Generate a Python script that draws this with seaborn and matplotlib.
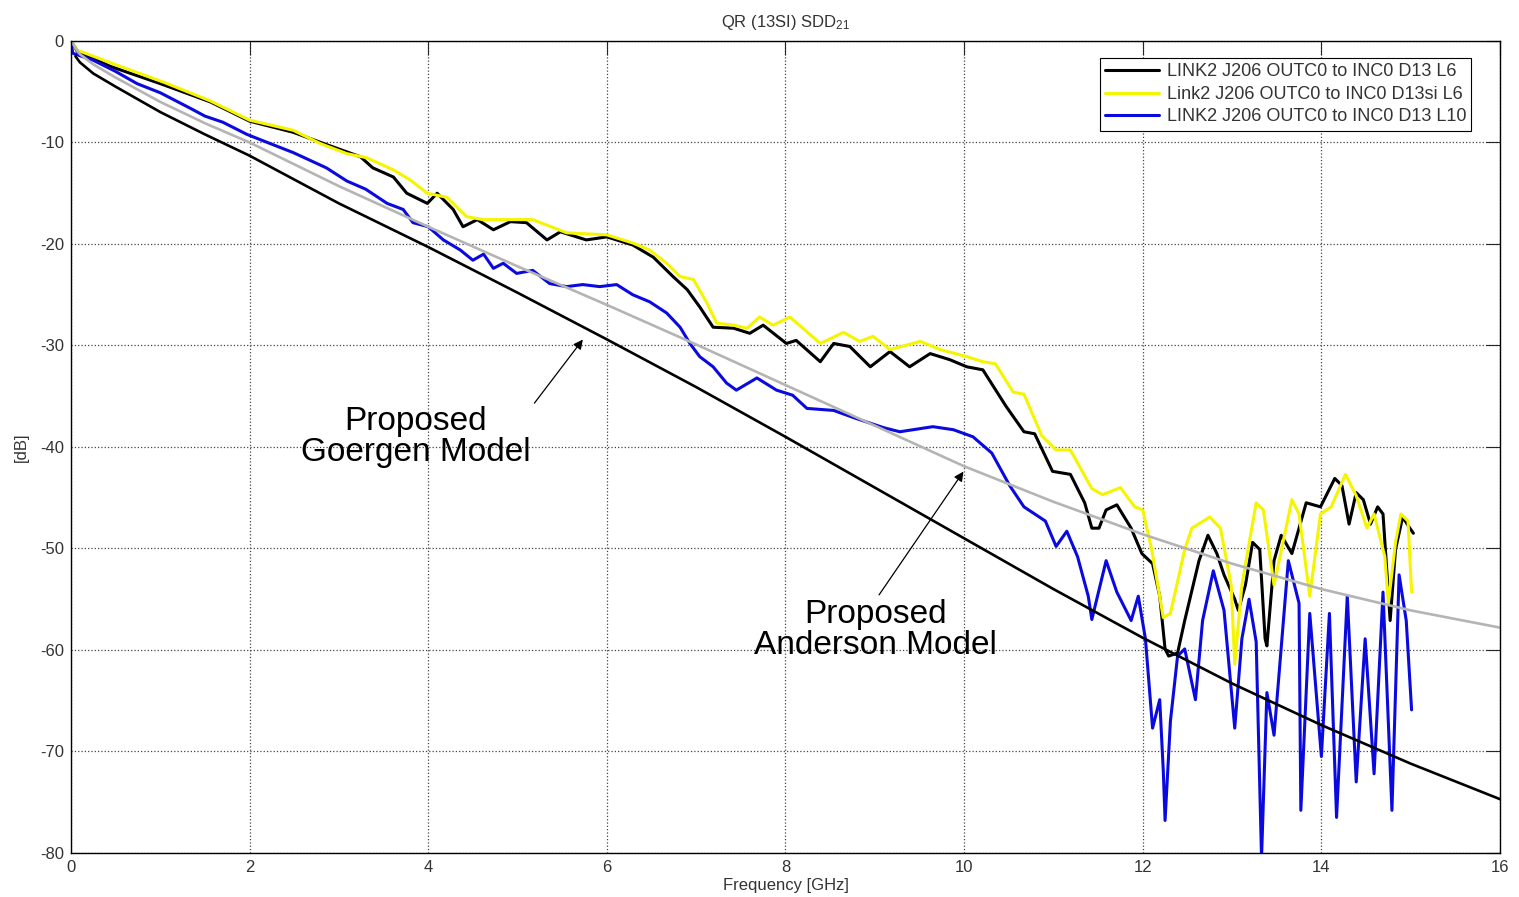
import matplotlib
matplotlib.use("Agg")
import matplotlib.pyplot as plt
import pandas as pd
import seaborn as sns

freq_l6 = [0, 0.07, 0.44, 1.0, 1.56, 2.0, 2.49, 2.86, 3.24, 3.38, 3.61, 3.76, 3.99, 4.1, 4.28,
           4.39, 4.55, 4.73, 4.92, 5.1, 5.33, 5.48, 5.77, 6.0, 6.29, 6.52, 6.74, 6.9, 7.04, 7.19,
           7.42, 7.6, 7.75, 8.01, 8.12, 8.39, 8.54, 8.72, 8.95, 9.17, 9.39, 9.62, 9.84, 10.03,
           10.21, 10.47, 10.67, 10.79, 10.99, 11.19, 11.35, 11.43, 11.51, 11.59, 11.71, 11.87,
           11.99, 12.11, 12.19, 12.25, 12.29, 12.39, 12.47, 12.63, 12.73, 12.83, 12.91, 13.03,
           13.07, 13.15, 13.23, 13.31, 13.37, 13.39, 13.47, 13.55, 13.67, 13.83, 13.99, 14.15,
           14.23, 14.31, 14.39, 14.47, 14.55, 14.63, 14.69, 14.77, 14.83, 14.91, 14.99, 15.03]
db_l6 = [0, -1.0, -2.5, -4.2, -6.0, -7.9, -9.0, -10.2, -11.4, -12.5, -13.4, -15.0, -16.0, -15.0,
         -16.6, -18.3, -17.6, -18.6, -17.8, -17.9, -19.6, -18.8, -19.6, -19.3, -20.1, -21.3, -23.2,
         -24.5, -26.2, -28.2, -28.3, -28.8, -28.0, -29.8, -29.5, -31.6, -29.8, -30.1, -32.1, -30.6,
         -32.1, -30.8, -31.4, -32.1, -32.4, -36.0, -38.5, -38.7, -42.4, -42.7, -45.5, -48.0, -48.0,
         -46.2, -45.7, -48.0, -50.5, -51.5, -54.7, -59.9, -60.6, -60.3, -57.1, -51.2, -48.7, -50.5,
         -52.6, -55.0, -56.1, -53.6, -49.4, -50.1, -58.9, -59.6, -51.2, -48.7, -50.5, -45.5, -45.9,
         -43.1, -43.8, -47.6, -44.5, -45.2, -47.6, -45.9, -46.6, -57.1, -50.1, -46.9, -48.0, -48.5]

freq_si = [0, 0.07, 0.49, 1.05, 1.56, 2.0, 2.49, 2.79, 3.09, 3.31, 3.61, 3.8, 3.99, 4.21, 4.43,
           4.61, 4.8, 5.17, 5.55, 6.0, 6.29, 6.48, 6.67, 6.82, 6.97, 7.12, 7.23, 7.42, 7.57, 7.71,
           7.86, 8.05, 8.39, 8.65, 8.83, 8.98, 9.17, 9.51, 9.73, 10.03, 10.21, 10.35, 10.55, 10.67,
           10.87, 11.03, 11.19, 11.43, 11.55, 11.75, 11.91, 12.0, 12.1, 12.23, 12.31, 12.47, 12.55,
           12.75, 12.87, 12.99, 13.03, 13.11, 13.27, 13.35, 13.47, 13.67, 13.75, 13.87, 13.99, 14.11,
           14.27, 14.39, 14.51, 14.59, 14.71, 14.75, 14.83, 14.89, 14.97, 15.01]
db_si = [0, -0.9, -2.3, -4.1, -5.9, -7.8, -8.8, -10.1, -11.1, -11.5, -12.7, -13.7, -15.0, -15.4,
         -17.3, -17.6, -17.6, -17.6, -18.9, -19.1, -19.9, -20.6, -21.9, -23.2, -23.5, -25.8, -27.8,
         -28.0, -28.3, -27.2, -28.0, -27.2, -29.8, -28.7, -29.6, -29.1, -30.4, -29.6, -30.4, -31.1,
         -31.6, -31.8, -34.6, -34.8, -38.9, -40.3, -40.3, -44.1, -44.7, -44.0, -45.9, -46.2, -50.1,
         -56.8, -56.4, -50.1, -48.0, -46.9, -48.0, -53.6, -61.4, -53.6, -45.5, -46.2, -53.6, -45.2,
         -46.6, -54.7, -46.6, -45.9, -42.7, -44.8, -48.0, -46.6, -50.8, -55.4, -49.4, -46.6, -47.3,
         -54.3]

freq_l10 = [0, 0.02, 0.25, 0.5, 0.74, 1.0, 1.33, 1.5, 1.7, 1.97, 2.2, 2.49, 2.86, 3.09, 3.3, 3.54,
            3.72, 3.83, 4.0, 4.17, 4.36, 4.5, 4.62, 4.73, 4.84, 4.99, 5.17, 5.36, 5.55, 5.73, 5.92,
            6.11, 6.29, 6.48, 6.67, 6.82, 6.93, 7.04, 7.19, 7.34, 7.45, 7.68, 7.9, 8.08, 8.24, 8.54,
            8.76, 9.1, 9.28, 9.65, 9.88, 10.1, 10.31, 10.51, 10.67, 10.91, 11.03, 11.15, 11.27,
            11.39, 11.43, 11.59, 11.71, 11.87, 11.95, 12.03, 12.11, 12.19, 12.23, 12.25, 12.31,
            12.39, 12.47, 12.59, 12.67, 12.79, 12.91, 13.03, 13.11, 13.19, 13.27, 13.33, 13.39,
            13.47, 13.63, 13.75, 13.77, 13.87, 14.0, 14.09, 14.17, 14.29, 14.39, 14.49, 14.59,
            14.69, 14.79, 14.87, 14.95, 15.01]
db_l10 = [0, -1.2, -1.9, -3.0, -4.2, -5.1, -6.6, -7.4, -8.0, -9.2, -10.0, -11.0, -12.5, -13.8,
          -14.6, -16.0, -16.6, -17.9, -18.3, -19.6, -20.6, -21.6, -21.0, -22.4, -21.9, -22.9, -22.6,
          -23.9, -24.2, -24.0, -24.2, -24.0, -25.0, -25.7, -26.8, -28.2, -29.8, -31.1, -32.1, -33.7,
          -34.4, -33.2, -34.4, -34.9, -36.2, -36.4, -37.1, -38.1, -38.5, -38.0, -38.3, -39.0, -40.6,
          -43.8, -45.9, -47.3, -49.8, -48.3, -50.8, -54.7, -57.0, -51.2, -54.3, -57.1, -54.7, -58.9,
          -67.7, -64.9, -71.9, -76.8, -67.0, -60.6, -59.9, -64.9, -57.1, -52.2, -56.1, -67.7, -58.9,
          -55.0, -59.2, -80.5, -64.2, -68.4, -51.2, -55.4, -75.8, -56.4, -70.5, -56.4, -76.5, -54.7,
          -73.0, -58.9, -72.2, -54.3, -75.8, -52.6, -57.1, -65.9]

# model curves
freq_anderson = [0, 0.1, 0.25, 0.5, 1, 1.5, 2, 3, 4, 5, 6, 7, 8, 9, 10, 11, 12, 13, 14, 15, 16]
db_anderson = [0, -1.3, -2.3, -3.6, -6.0, -8.1, -10.0, -14.3, -18.3, -22.2, -26.0, -29.9, -33.9,
               -37.9, -41.9, -45.4, -48.6, -51.5, -54.0, -56.1, -57.8]
freq_goergen = [0.05, 0.1, 0.25, 0.5, 1, 1.5, 2, 3, 4, 5, 6, 7, 8, 9, 10, 11, 12, 13, 14, 15, 16]
db_goergen = [-1.5, -2.1, -3.2, -4.5, -7.0, -9.2, -11.3, -16.0, -20.3, -24.8, -29.4, -34.1, -39.0,
              -44.0, -49.0, -54.0, -58.8, -63.3, -67.4, -71.2, -74.7]

labels = ["LINK2 J206 OUTC0 to INC0 D13 L6",
          "Link2 J206 OUTC0 to INC0 D13si L6",
          "LINK2 J206 OUTC0 to INC0 D13 L10"]
colors = ["#000000", "#f5f500", "#0a0ae0"]


def make_plot():
    sns.set_style("white")
    plt.rcParams["font.family"] = ["Liberation Sans", "DejaVu Sans"]
    plt.rcParams["mathtext.default"] = "regular"
    plt.rcParams["axes.unicode_minus"] = False

    fig = plt.figure(figsize=(15.19, 8.97), dpi=100)
    ax = fig.add_axes([0.0467, 0.0491, 0.9408, 0.9052])

    traces = [(freq_l6, db_l6), (freq_si, db_si), (freq_l10, db_l10)]
    for (f, d), lab, c in zip(traces, labels, colors):
        df = pd.DataFrame({"freq": f, "db": d})
        sns.lineplot(data=df, x="freq", y="db", ax=ax, color=c, linewidth=2.2,
                     sort=False, estimator=None, label=lab)

    sns.lineplot(x=freq_anderson, y=db_anderson, ax=ax, color="#b4b4b4", linewidth=1.9,
                 sort=False, estimator=None, legend=False)
    sns.lineplot(x=freq_goergen, y=db_goergen, ax=ax, color="black", linewidth=1.9,
                 sort=False, estimator=None, legend=False)

    ax.set_xlim(0, 16)
    ax.set_ylim(-80, 0)
    ax.set_xticks(range(0, 17, 2))
    ax.set_yticks(range(-80, 1, 10))
    ax.grid(True, linestyle=":", color="#444444", linewidth=0.9)
    ax.tick_params(direction="in", top=True, right=True, length=10, width=0.8,
                   labelsize=12, labelcolor="#333333", pad=5)
    for s in ax.spines.values():
        s.set_color("black")
        s.set_linewidth(1.0)

    ax.set_title("QR (13SI) SDD$_{21}$", fontsize=12, color="#333333", pad=10)
    ax.set_xlabel("Frequency [GHz]", fontsize=12, color="#333333", labelpad=2)
    ax.set_ylabel("[dB]", fontsize=12, color="#333333", labelpad=8)

    ax.annotate("", xy=(5.75, -29.2), xytext=(5.17, -35.9),
                arrowprops=dict(arrowstyle="-|>", color="black", lw=0.9, mutation_scale=14))
    ax.text(3.86, -39.0, "Proposed\nGoergen Model", fontsize=24, ha="center", va="center",
            linespacing=1.0, color="black")
    ax.annotate("", xy=(10.01, -42.2), xytext=(9.03, -54.8),
                arrowprops=dict(arrowstyle="-|>", color="black", lw=0.9, mutation_scale=14))
    ax.text(9.01, -58.0, "Proposed\nAnderson Model", fontsize=24, ha="center", va="center",
            linespacing=1.0, color="black")

    leg = ax.legend(loc="upper right", bbox_to_anchor=(0.980, 0.979), fontsize=13,
                    frameon=True, fancybox=False, framealpha=1, edgecolor="black",
                    handlelength=3.0, handletextpad=0.4, labelspacing=0.3,
                    borderpad=0.3, borderaxespad=0)
    leg.get_frame().set_linewidth(0.8)
    for t in leg.get_texts():
        t.set_color("#333333")

    fig.savefig("out.png", dpi=100)


if __name__ == "__main__":
    make_plot()
